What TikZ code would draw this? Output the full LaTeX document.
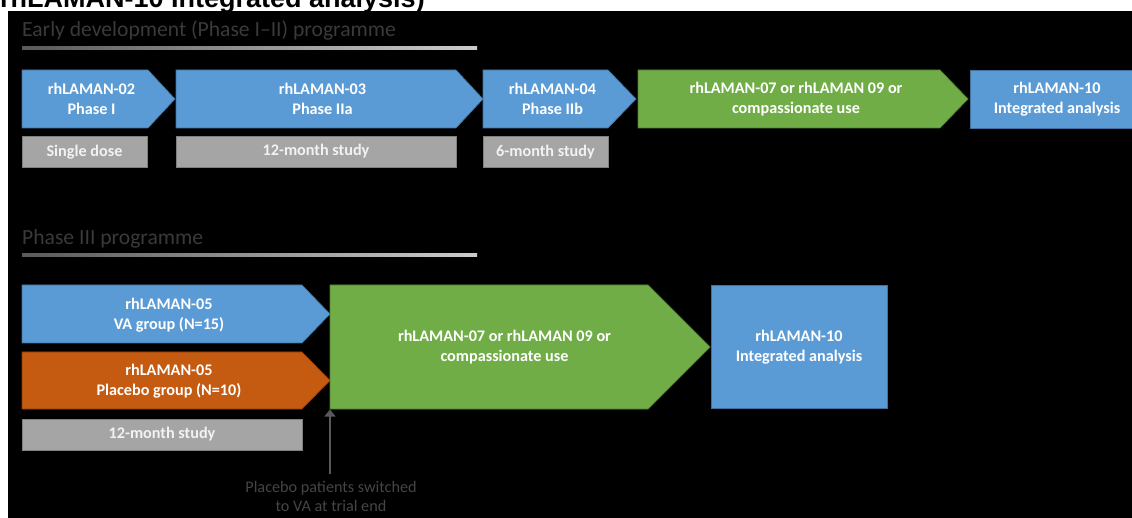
\documentclass[tikz,border=0pt]{standalone}
\usepackage{fontspec}
\setmainfont{Carlito}
\newfontfamily\arialfont{Liberation Sans}
\usetikzlibrary{arrows.meta}
\definecolor{cblue}{HTML}{5B9BD5}
\definecolor{cbluee}{HTML}{41719C}
\definecolor{cgreen}{HTML}{70AD47}
\definecolor{cgreene}{HTML}{507E32}
\definecolor{corange}{HTML}{C55A11}
\definecolor{corangee}{HTML}{8E3F0B}
\definecolor{cgray}{HTML}{A5A5A5}
\definecolor{cgraye}{HTML}{7F7F7F}
\definecolor{ctitle}{HTML}{3A3A3A}
\definecolor{cnote}{HTML}{454545}
\definecolor{carrow}{HTML}{595959}
\definecolor{cboxtext}{HTML}{F2F2F2}
\newcommand{\chevshape}[6]{%
  \path[#1] (#2,#5) -- (#3,#5) -- (#4,{(#5+#6)/2}) -- (#3,#6) -- (#2,#6) -- cycle;}
\tikzset{
  bluebox/.style={fill=cblue,draw=cbluee,line width=0.7pt},
  greenbox/.style={fill=cgreen,draw=cgreene,line width=0.7pt},
  orangebox/.style={fill=corange,draw=corangee,line width=0.7pt},
  graybox/.style={fill=cgray,draw=cgraye,line width=0.7pt},
  boxtext/.style={text=white,font=\fontsize{16.2}{19.5}\selectfont\bfseries,align=center,inner sep=0pt},
  graytext/.style={text=cboxtext,font=\fontsize{16.2}{19.5}\selectfont\bfseries,align=center,inner sep=0pt},
  titletext/.style={text=ctitle,font=\fontsize{21.6}{25}\selectfont,anchor=base west,inner sep=0pt},
  notetext/.style={text=cnote,font=\fontsize{16.2}{19}\selectfont,align=center,inner sep=0pt},
  uline/.style={left color=carrow,right color=black!20},
}
\begin{document}
\begin{tikzpicture}[x=1pt,y=-1pt]
\useasboundingbox (0,0) rectangle (1132,518);
\fill[white] (0,0) rectangle (1132,518);
% cut-off heading at the top
\node[anchor=base west,inner sep=0pt,font=\arialfont\bfseries\fontsize{27}{30}\selectfont,text=black] (heading) at (0,7.5) {rhLAMAN-10 Integrated analysis)};
\fill[black] (8,11) rectangle (1132,518);
% ---------- Early development ----------
\node[titletext] (title1) at (22,37) {Early development (Phase I--II) programme};
\shade[uline] (22,47) rectangle (477,49.5);
\chevshape{bluebox}{22}{148}{175}{70}{128}
\chevshape{bluebox}{176}{456}{483}{70}{128}
\chevshape{bluebox}{483}{608}{636}{70}{128}
\chevshape{greenbox}{638}{940}{968}{70}{128}
\path[bluebox] (970,70) rectangle (1146,128);
\node[boxtext] (p02) at (91.5,99) {rhLAMAN-02\\Phase I};
\node[boxtext] (p03) at (322.5,99) {rhLAMAN-03\\Phase IIa};
\node[boxtext] (p04) at (552.5,99) {rhLAMAN-04\\Phase IIb};
\node[boxtext] (p07a) at (796,99) {rhLAMAN-07 or rhLAMAN 09 or\\compassionate\ use};
\node[boxtext] (p10a) at (1057,99) {rhLAMAN-10\\Integrated analysis};
\path[graybox] (22,136) rectangle (147,167);
\path[graybox] (176,136) rectangle (456,167);
\path[graybox] (483,136) rectangle (608,167);
\node[graytext] (g1) at (84.5,152) {Single dose};
\node[graytext] (g2) at (316,151.5) {12-month study};
\node[graytext] (g3) at (545.5,152) {6-month study};
% ---------- Phase III ----------
\node[titletext] (title2) at (22,245) {Phase III programme};
\shade[uline] (22,254) rectangle (477,256.5);
\chevshape{bluebox}{22}{302}{330}{285}{343}
\chevshape{orangebox}{22}{302}{330}{352}{409}
\chevshape{greenbox}{330}{648}{710}{285}{409}
\path[bluebox] (711,285) rectangle (887,408);
\node[boxtext] (va) at (169,315) {rhLAMAN-05\\VA group (N=15)};
\node[boxtext] (pl) at (169,381) {rhLAMAN-05\\Placebo group (N=10)};
\node[boxtext] (p07b) at (504.5,347) {rhLAMAN-07 or rhLAMAN 09 or\\compassionate\ use};
\node[boxtext] (p10b) at (799,347) {rhLAMAN-10\\Integrated analysis};
\path[graybox] (22,419) rectangle (302,450);
\node[graytext] (g4) at (162,434.5) {12-month study};
% annotation arrow
\coordinate (gsw) at (330,409.5);
\coordinate (atail) at (330,474);
\draw[carrow,line width=1.2pt,-{Triangle[width=11pt,length=7pt]}] (atail) -- (gsw);
\node[notetext] (note) at (331,496) {Placebo patients switched\\to VA at trial end};
\end{tikzpicture}
\end{document}
